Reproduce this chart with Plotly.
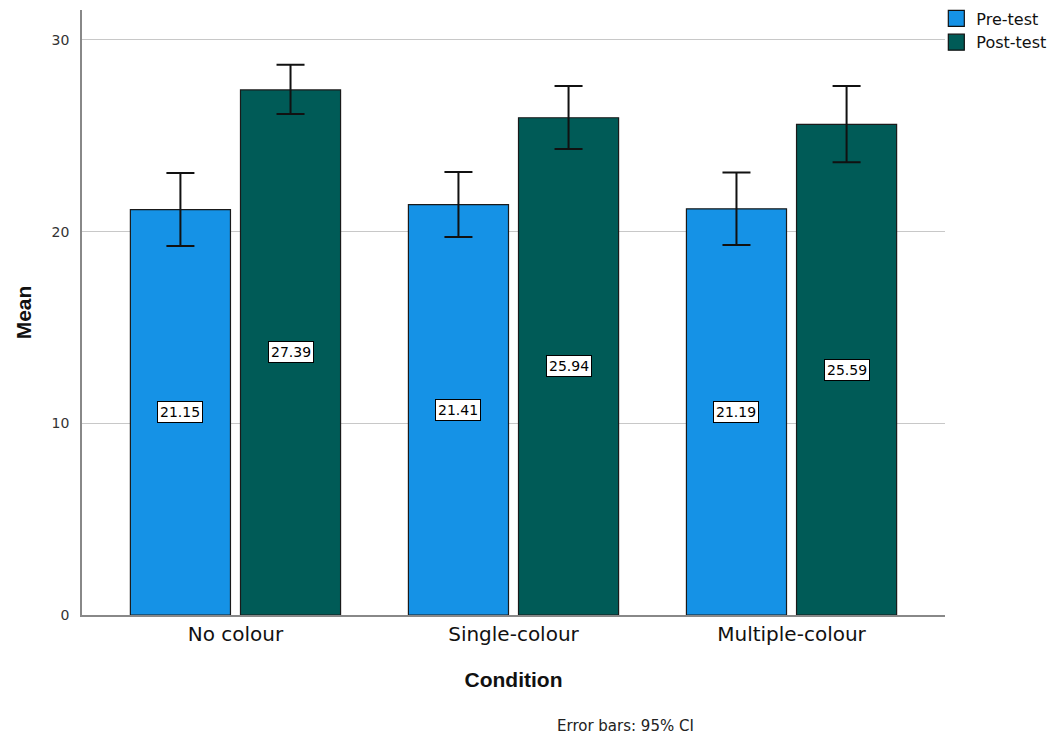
import plotly.graph_objects as go

categories = ["No colour", "Single-colour", "Multiple-colour"]
pre_means = [21.15, 21.41, 21.19]
post_means = [27.39, 25.94, 25.59]
pre_ci_upper = [23.06, 23.11, 23.08]
pre_ci_lower = [19.25, 19.72, 19.30]
post_ci_upper = [28.70, 27.60, 27.60]
post_ci_lower = [26.14, 24.31, 23.62]
y_ticks = [0, 10, 20, 30]

pre_color = "#1592E6"
post_color = "#005B57"

fig = go.Figure()

def add_series(name, means, up, lo, color, offset):
    fig.add_trace(go.Bar(
        name=name,
        x=list(range(len(categories))),
        y=means,
        width=0.36,
        offset=offset,
        showlegend=False,
        marker=dict(color=color, line=dict(color="#1a1a1a", width=1.2)),
        error_y=dict(
            type="data", symmetric=False,
            array=[u - m for u, m in zip(up, means)],
            arrayminus=[m - l for l, m in zip(lo, means)],
            color="#111111", thickness=2, width=14,
        ),
    ))
    fig.add_trace(go.Scatter(
        name=name, x=[None], y=[None], mode="markers",
        marker=dict(symbol="square", size=17, color=color, line=dict(color="#111111", width=1.2)),
    ))

add_series("Pre-test", pre_means, pre_ci_upper, pre_ci_lower, pre_color, -0.378)
add_series("Post-test", post_means, post_ci_upper, post_ci_lower, post_color, 0.018)

for i in range(len(categories)):
    for m, center in ((pre_means[i], i - 0.198), (post_means[i], i + 0.198)):
        fig.add_annotation(
            x=center, y=m / 2, text=f"{m:.2f}", showarrow=False,
            font=dict(family="DejaVu Sans", size=14, color="black"),
            bgcolor="white", bordercolor="black", borderwidth=1, borderpad=2,
        )

fig.add_annotation(
    x=0.63, y=-0.165, xref="paper", yref="paper", yanchor="top",
    text="Error bars: 95% CI", showarrow=False,
    font=dict(family="DejaVu Sans", size=15, color="#222222"),
)

fig.update_layout(
    width=1064, height=742,
    margin=dict(l=82, r=119, t=10, b=127, autoexpand=False),
    plot_bgcolor="white", paper_bgcolor="white",
    showlegend=True,
    legend=dict(
        xref="container", yref="container",
        x=0.88, y=0.998, xanchor="left", yanchor="top",
        font=dict(family="DejaVu Sans", size=16, color="#111111"),
        bgcolor="rgba(0,0,0,0)", tracegroupgap=0,
        itemsizing="trace", itemwidth=30,
    ),
    xaxis=dict(
        range=[-0.552, 2.552],
        tickmode="array", tickvals=list(range(len(categories))), ticktext=categories,
        tickfont=dict(family="DejaVu Sans", size=20, color="#111111"),
        title=dict(text="<b>Condition</b>", font=dict(family="Liberation Sans", size=21, color="#111111"), standoff=28),
        showline=True, linecolor="#888888", linewidth=1.5,
        showgrid=False, ticks="", zeroline=False,
    ),
    yaxis=dict(
        range=[0, 31.56],
        tickmode="array", tickvals=y_ticks,
        tickfont=dict(family="DejaVu Sans", size=14, color="#333333"),
        title=dict(text="<b>Mean</b>", font=dict(family="Liberation Sans", size=21, color="#111111"), standoff=14),
        showline=True, linecolor="#888888", linewidth=1.5,
        showgrid=True, gridcolor="#c8c8c8", gridwidth=1.2,
        ticks="", ticklabelstandoff=8,
        zeroline=False,
    ),
)

fig.write_html("out.html", config={"displayModeBar": False},
               post_script="document.body.style.margin='0';")
